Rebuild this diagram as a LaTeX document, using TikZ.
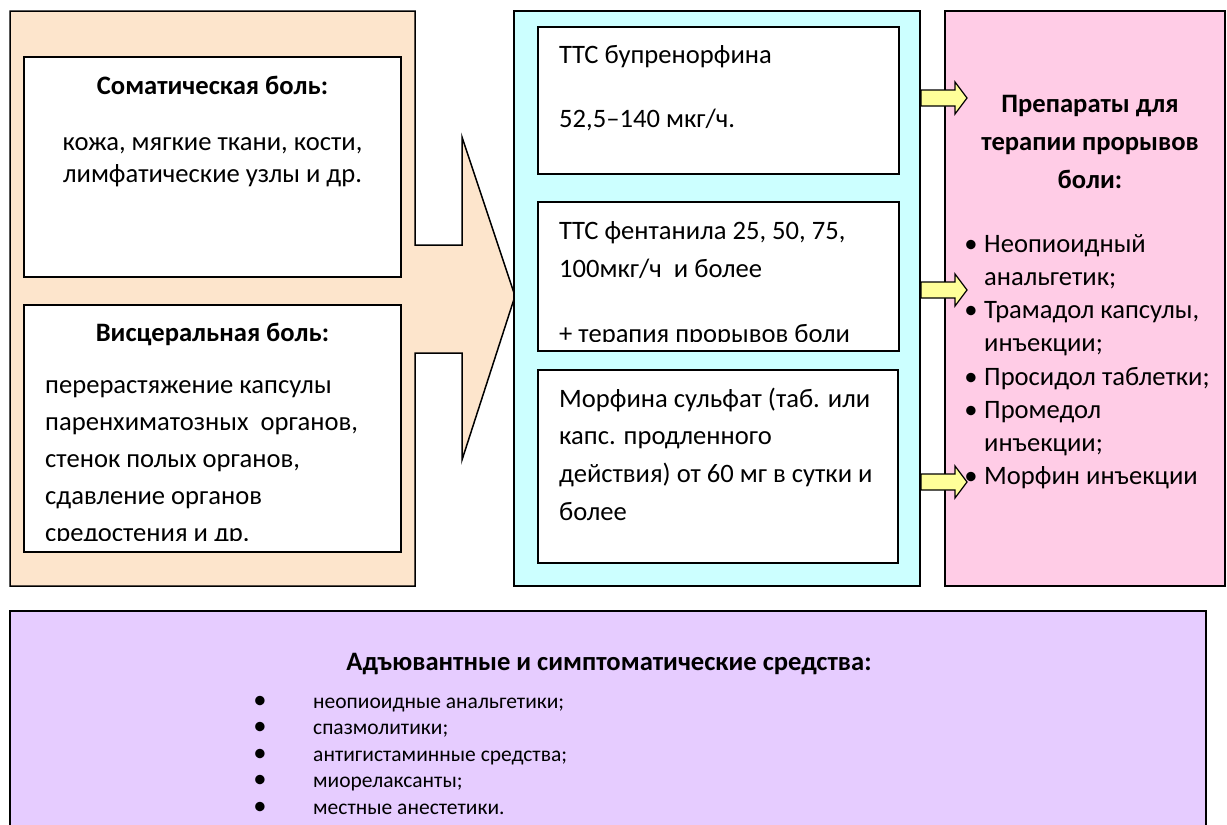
\documentclass[tikz,border=0pt]{standalone}
\usepackage{fontspec}
\setmainfont{Carlito}
\definecolor{peach}{HTML}{FDE5CC}
\definecolor{aqua}{HTML}{CCFFFF}
\definecolor{rose}{HTML}{FFCCE6}
\definecolor{lilac}{HTML}{E6CCFF}
\definecolor{lemon}{HTML}{FFFF99}
\newcommand\fmain{\fontsize{26.6}{36}\selectfont}
\newcommand\flist{\fontsize{21.5}{26}\selectfont}
\tikzset{
  box/.style={draw, line width=1.5pt, inner sep=0pt, outer sep=0pt, anchor=north west},
  txt/.style={anchor=base west, inner sep=0pt, font=\fmain},
  ctxt/.style={anchor=base, inner sep=0pt, font=\fmain},
  head/.style={anchor=base, inner sep=0pt, font=\fmain\bfseries},
  ltxt/.style={anchor=base west, inner sep=0pt, font=\flist},
  yarrow/.style={draw, line width=1.2pt, fill=lemon, line join=miter}
}
\begin{document}
\begin{tikzpicture}[x=1pt, y=-1pt]
\clip (0,0) rectangle (1227,825);

% left block arrow
\draw[line width=1.5pt, fill=peach] (10,11) -- (415,11) -- (415,245) -- (462,245) -- (462,137)
  -- (515,296) -- (462,460) -- (462,353) -- (415,353) -- (415,586) -- (10,586) -- cycle;
\node[box, fill=white, minimum width=377pt, minimum height=220pt] (soma) at (24,57) {};
\node[box, fill=white, minimum width=377pt, minimum height=247pt] (visc) at (24,305) {};

\node[head] (somaT) at (212.5,94) {Соматическая боль:};
\node[ctxt] at (212.5,150.5) {кожа, мягкие ткани, кости,};
\node[ctxt] at (212.5,182) {лимфатические узлы и др.};

\node[head] (viscT) at (212.5,341) {Висцеральная боль:};
\foreach \y/\t in {393/{перерастяжение капсулы}, 430/{паренхиматозных\ \ органов,},
    467/{стенок полых органов,}, 504/{сдавление органов}}
  \node[txt] at (45,\y) {\t};
\begin{scope}
  \clip (24,305) rectangle (401,540);
  \node[txt] at (45,541) {средостения и др.};
\end{scope}

% opioid boxes
\node[box, fill=aqua, minimum width=406pt, minimum height=575pt] (opioid) at (514,11) {};
\node[box, fill=white, minimum width=361pt, minimum height=147pt] (bup) at (538,27) {};
\node[box, fill=white, minimum width=361pt, minimum height=149pt] (fent) at (538,202) {};
\node[box, fill=white, minimum width=360pt, minimum height=193pt] (morph) at (538,370) {};

\node[txt] at (559,63) {ТТС бупренорфина};
\node[txt] at (559,127) {52,5–140 мкг/ч.};

\node[txt] at (559,239) {ТТС фентанила 25, 50, 75,};
\node[txt] at (559,277) {100мкг/ч\ \ и более};
\begin{scope}
  \clip (538,202) rectangle (899,341.5);
  \node[txt] at (559,342) {+ терапия прорывов боли};
\end{scope}

\foreach \y/\t in {407/{Морфина сульфат (таб. или}, 444/{капс. продленного},
    482/{действия) от 60 мг в сутки и}, 520/{более}}
  \node[txt] at (559,\y) {\t};

% breakthrough pain
\node[box, fill=rose, minimum width=280pt, minimum height=575pt] (rescue) at (945,11) {};
\node[head] at (1090,112) {Препараты для};
\node[head] at (1090,150) {терапии прорывов};
\node[head] at (1090,188) {боли:};
\foreach \y in {252,318,385,418,484}
  \node[ctxt] at (971,\y) {•};
\foreach \y/\t in {252/{Неопиоидный}, 285/{анальгетик;}, 318/{Трамадол капсулы,},
    351/{инъекции;}, 385/{Просидол таблетки;}, 418/{Промедол}, 451/{инъекции;},
    484/{Морфин инъекции}}
  \node[txt] at (984,\y) {\t};

% yellow arrows
\foreach \y in {98,290,482}
  \draw[yarrow] (921,\y-8) -- (955,\y-8) -- (955,\y-16) -- (967,\y) -- (955,\y+16)
    -- (955,\y+8) -- (921,\y+8) -- cycle;

% adjuvant
\node[box, fill=lilac, minimum width=1196pt, minimum height=240pt] (adj) at (10,611) {};
\node[head] at (609,670) {Адъювантные и симптоматические средства:};
\foreach \y/\t in {708/{неопиоидные анальгетики;}, 734.5/{спазмолитики;},
    761/{антигистаминные средства;}, 787.5/{миорелаксанты;}, 814/{местные анестетики.}}
{
  \node[anchor=base, inner sep=0pt, font=\fmain] at (260,\y) {•};
  \node[ltxt] at (313,\y) {\t};
}
\end{tikzpicture}
\end{document}
